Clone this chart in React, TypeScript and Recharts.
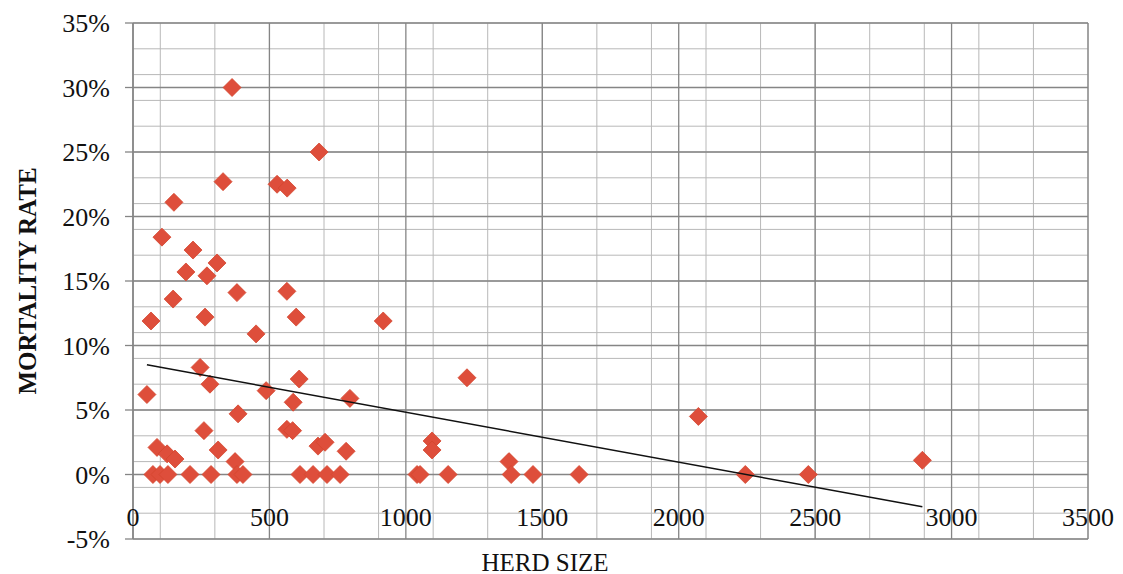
import React from 'react';
import { ScatterChart, Scatter, XAxis, YAxis, CartesianGrid } from 'recharts';

// herd size / mortality rate (%)
const herdSize = [
  363, 682, 330, 528, 565, 150, 106, 220, 194, 308, 271, 147, 381, 564, 66, 264, 598, 917, 451,
  1224, 246, 282, 51, 488, 609, 587, 795, 385, 2072, 260, 564, 585, 312, 88, 125, 154, 374,
  678, 704, 781, 1096, 1096, 1378, 2893,
  73, 99, 128, 209, 286, 381, 403, 612, 660, 711, 759, 1041, 1052, 1155, 1386, 1466, 1635, 2244, 2475,
];
const mortality = [
  30.0, 25.0, 22.7, 22.5, 22.2, 21.1, 18.4, 17.4, 15.7, 16.4, 15.4, 13.6, 14.1, 14.2, 11.9, 12.2, 12.2, 11.9, 10.9,
  7.5, 8.3, 7.0, 6.2, 6.5, 7.4, 5.6, 5.9, 4.7, 4.5, 3.4, 3.5, 3.4, 1.9, 2.1, 1.6, 1.2, 1.0,
  2.2, 2.5, 1.8, 2.6, 1.9, 1.0, 1.1,
  0, 0, 0, 0, 0, 0, 0, 0, 0, 0, 0, 0, 0, 0, 0, 0, 0, 0, 0,
];

// linear trend line end points
const trendX = [51, 2893];
const trendY = [8.5, -2.5];

const xTicks = [0, 500, 1000, 1500, 2000, 2500, 3000, 3500];
const yTicks = [-5, 0, 5, 10, 15, 20, 25, 30, 35];
const xMinor = Array.from({ length: 36 }, (_, i) => i * 100);
const yMinor = Array.from({ length: 41 }, (_, i) => i - 5);

const points = herdSize.map((x, i) => ({ x, y: mortality[i] }));
const trend = trendX.map((x, i) => ({ x, y: trendY[i] }));

const FONT = '"Liberation Serif", "Times New Roman", serif';
const TOP = 23;
const BOTTOM = 539;

const Diamond = (props: any) => {
  const { cx, cy } = props;
  const r = 9;
  return (
    <polygon
      points={`${cx},${cy - r} ${cx + r},${cy} ${cx},${cy + r} ${cx - r},${cy}`}
      fill="#DE4E3B"
      stroke="#D4462F"
      strokeWidth={0.8}
    />
  );
};

const XTick = (props: any) => (
  <text x={props.x} y={BOTTOM - 22} textAnchor="middle" dominantBaseline="central"
    fontFamily={FONT} fontSize={26} fill="#111">
    {props.payload.value}
  </text>
);

export default function App() {
  return (
    <div style={{ position: 'absolute', left: 0, top: 0, background: '#fff' }}>
      <ScatterChart width={1123} height={574} margin={{ top: TOP, right: 35, bottom: 0, left: 0 }}>
        <CartesianGrid horizontalValues={yMinor} verticalValues={xMinor} stroke="#b8b8b8" strokeWidth={1} fill="none" />
        <CartesianGrid horizontalValues={yTicks} verticalValues={xTicks} stroke="#858585" strokeWidth={1.3} fill="none" />
        <XAxis
          type="number"
          dataKey="x"
          domain={[0, 3500]}
          ticks={xTicks}
          height={35}
          axisLine={false}
          tickLine={false}
          tick={<XTick />}
          label={{
            content: () => (
              <text x={545} y={562} textAnchor="middle" dominantBaseline="central"
                fontFamily={FONT} fontSize={25} fill="#111">HERD SIZE</text>
            ),
          }}
        />
        <YAxis
          type="number"
          dataKey="y"
          domain={[-5, 35]}
          ticks={yTicks}
          width={133}
          tickSize={8}
          tickMargin={15}
          tickFormatter={(v: number) => `${v}%`}
          tick={{ fontFamily: FONT, fontSize: 26, fill: '#111' }}
          axisLine={{ stroke: '#858585', strokeWidth: 1.3 }}
          tickLine={{ stroke: '#858585', strokeWidth: 1.3 }}
          label={{
            content: () => (
              <text x={27} y={281} textAnchor="middle" dominantBaseline="central"
                transform="rotate(-90 27 281)" fontFamily={FONT} fontSize={25}
                fontWeight="bold" fill="#111">MORTALITY RATE</text>
            ),
          }}
        />
        <Scatter data={points} shape={<Diamond />} isAnimationActive={false} />
        <Scatter data={trend} line={{ stroke: '#111', strokeWidth: 1.5 }} shape={() => null}
          isAnimationActive={false} />
      </ScatterChart>
    </div>
  );
}
